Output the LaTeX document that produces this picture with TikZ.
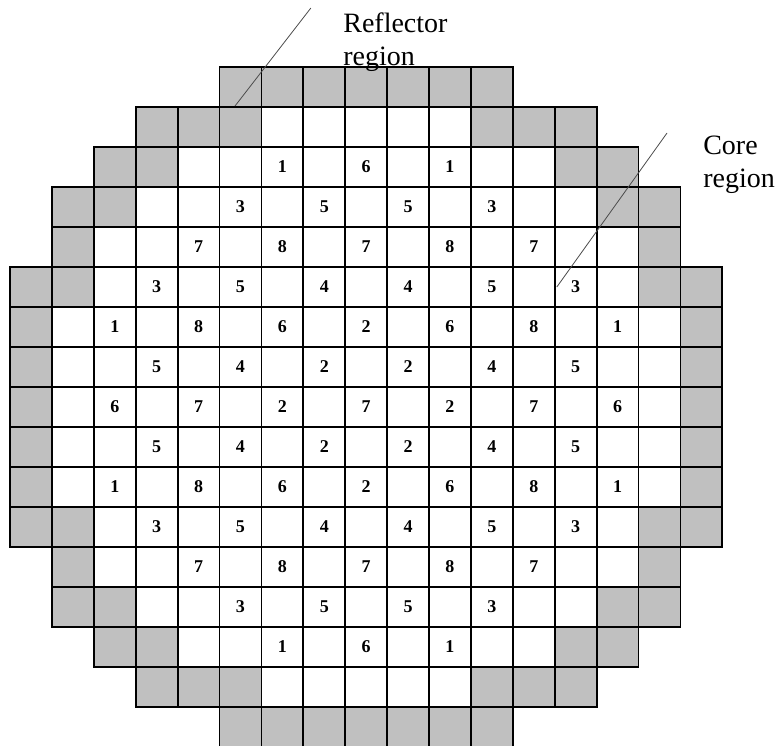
\documentclass[tikz,border=0pt]{standalone}
\usepackage{fontspec}
\setmainfont{Liberation Serif}
\definecolor{reflgray}{RGB}{192,192,192}

\begin{document}
\begin{tikzpicture}[x=41.9pt, y=40pt,
    cell/.style={line width=1.8pt, draw=black},
    num/.style={font=\fontsize{18}{20}\selectfont\bfseries},
    lbl/.style={font=\fontsize{28}{32.5}\selectfont, align=left, inner sep=0pt},
    leader/.style={line width=0.8pt, draw=black!70}]
    \useasboundingbox (-0.239,1.675) rectangle (18.305,-16.95);

    % cells row by row: row / first col / last col / reflector cells at each end
    \foreach \r/\a/\b/\g in {0/5/11/4, 1/3/13/3, 2/2/14/2, 3/1/15/2, 4/1/15/1,
        5/0/16/2, 6/0/16/1, 7/0/16/1, 8/0/16/1, 9/0/16/1, 10/0/16/1, 11/0/16/2,
        12/1/15/1, 13/1/15/2, 14/2/14/2, 15/3/13/3, 16/5/11/4} {
        \foreach \c in {\a,...,\b} {
            \pgfmathtruncatemacro{\isrefl}{(\c<\a+\g) || (\c>\b-\g)}
            \ifnum\isrefl=1 \def\cellcol{reflgray}\else\def\cellcol{white}\fi
            \draw[cell, fill=\cellcol] (\c,-\r) rectangle ++(1,-1);
        }
    }

    % fuel types, upper half (mirrored to lower half)
    \foreach \r/\c/\v in {2/6/1, 2/8/6, 2/10/1, 3/5/3, 3/7/5, 3/9/5, 3/11/3,
        4/4/7, 4/6/8, 4/8/7, 4/10/8, 4/12/7, 5/3/3, 5/5/5, 5/7/4, 5/9/4, 5/11/5, 5/13/3,
        6/2/1, 6/4/8, 6/6/6, 6/8/2, 6/10/6, 6/12/8, 6/14/1,
        7/3/5, 7/5/4, 7/7/2, 7/9/2, 7/11/4, 7/13/5} {
        \pgfmathtruncatemacro{\rr}{16-\r}
        \node[num] (n\r-\c) at (\c+0.5,-\r-0.5) {\v};
        \node[num] (n\rr-\c) at (\c+0.5,-\rr-0.5) {\v};
    }
    % middle row
    \foreach \c/\v in {2/6, 4/7, 6/2, 8/7, 10/2, 12/7, 14/6} {
        \node[num] (n8-\c) at (\c+0.5,-8.5) {\v};
    }

    % labels and leader lines
    \node[lbl, anchor=north west] (refl) at (7.95,1.35) {Reflector\\region};
    \node[lbl, anchor=north west] (core) at (16.54,-1.72) {Core\\region};
    \coordinate (refltip) at (7.18,1.475);
    \coordinate (reflend) at (5.37,-0.975);
    \coordinate (coretip) at (15.68,-1.65);
    \coordinate (coreend) at (13.05,-5.5);
    \draw[leader] (refltip) -- (reflend);
    \draw[leader] (coretip) -- (coreend);
\end{tikzpicture}
\end{document}
